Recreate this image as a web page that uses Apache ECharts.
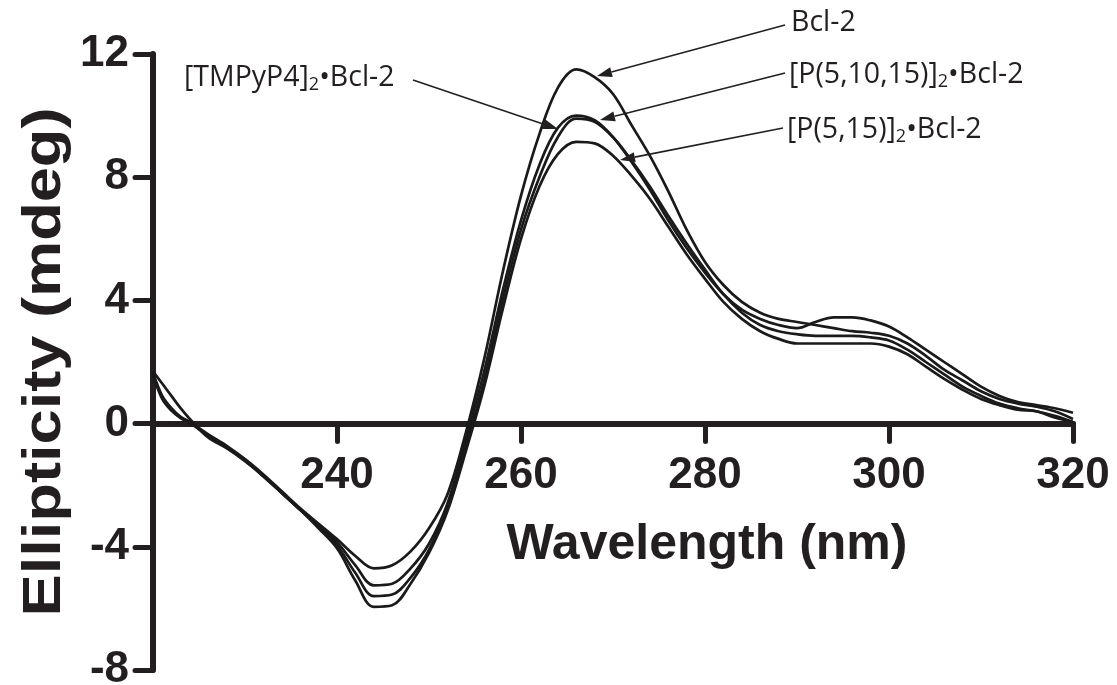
<!DOCTYPE html>
<html>
<head>
<meta charset="utf-8">
<script src="https://cdn.jsdelivr.net/npm/echarts@6/dist/echarts.min.js"></script>
<style>
html,body{margin:0;padding:0;background:#fff;}
#chart{width:1117px;height:685px;}
</style>
</head>
<body>
<div id="chart"></div>
<script>
// Wavelength (nm)
const wavelengths = [220,221,222,223,224,226,228,230,232,234,236,238,240,242,244,246,248,250,252,254,256,258,260,262,264,266,268,270,272,274,276,278,280,282,284,286,288,290,292,294,296,298,300,302,304,306,308,310,312,314,316,318,320];

// Ellipticity (mdeg)
const bcl2 = [1.6,0.85,0.45,0.2,0.05,
  -0.35,-0.72,-1.15,-1.65,-2.2,-2.75,-3.25,
  -3.75,-4.3,-4.7,-4.6,-4.15,-3.4,-2.3,-0.3,
  2.1,4.9,7.4,9.4,10.9,11.5,11.25,10.7,9.7,8.7,
  7.55,6.3,5.25,4.5,3.95,3.6,3.4,3.3,3.2,3.1,
  3.0,2.95,2.85,2.6,2.2,1.75,1.4,1.05,0.8,0.65,0.55,0.4,0.15];
const tmpyp4 = [1.65,0.9,0.5,0.22,0.05,
  -0.38,-0.75,-1.2,-1.7,-2.25,-2.8,-3.3,
  -3.85,-4.6,-5.25,-5.2,-4.7,-3.9,-2.6,-0.5,
  1.7,4.3,6.6,8.4,9.6,10.0,9.85,9.3,8.5,7.6,
  6.6,5.7,4.9,4.2,3.7,3.4,3.2,3.1,3.3,3.45,
  3.45,3.35,3.15,2.8,2.4,2.0,1.6,1.2,0.9,0.7,0.6,0.5,0.35];
const p51015 = [1.6,0.8,0.42,0.18,0.02,
  -0.4,-0.78,-1.2,-1.72,-2.25,-2.8,-3.35,
  -3.95,-4.85,-5.6,-5.55,-5.0,-4.1,-2.7,-0.7,
  1.4,4.0,6.3,8.0,9.3,9.9,9.8,9.3,8.55,7.7,
  6.75,5.85,5.0,4.2,3.6,3.2,3.0,2.9,2.85,2.85,
  2.85,2.8,2.7,2.4,2.0,1.6,1.2,0.9,0.65,0.5,0.4,0.25,0.05];
const p515 = [1.7,1.3,0.9,0.5,0.15,
  -0.45,-0.8,-1.22,-1.7,-2.25,-2.8,-3.4,
  -4.05,-5.1,-5.95,-5.9,-5.2,-4.2,-2.85,-0.9,
  1.2,3.7,6.0,7.7,8.75,9.15,9.1,8.7,8.05,7.3,
  6.4,5.5,4.7,3.95,3.4,3.0,2.75,2.6,2.6,2.6,
  2.6,2.6,2.5,2.25,1.85,1.45,1.1,0.8,0.6,0.45,0.4,0.2,0.05];

const seriesNames = ['Bcl-2','[TMPyP4]2•Bcl-2','[P(5,10,15)]2•Bcl-2','[P(5,15)]2•Bcl-2'];
const seriesValues = [bcl2, tmpyp4, p51015, p515];

const xTicks = [220,240,260,280,300,320];
const xTickLabels = ['240','260','280','300','320'];
const yTicks = [-8,-4,0,4,8,12];

const INK = '#231f20';
const AXIS_FONT = '"Liberation Sans", Arial, sans-serif';
const chart = echarts.init(document.getElementById('chart'), null, {renderer:'canvas'});

function arrow(x1,y1,x2,y2){
  const dx=x2-x1, dy=y2-y1, L=Math.hypot(dx,dy);
  const ux=dx/L, uy=dy/L, len=15, w=5;
  const bx=x2-ux*len, by=y2-uy*len;
  return [
    {type:'line', shape:{x1:x1,y1:y1,x2:bx,y2:by}, style:{stroke:INK,lineWidth:1.6}, z:10},
    {type:'polygon', shape:{points:[[x2,y2],[bx-uy*w,by+ux*w],[bx+uy*w,by-ux*w]]}, style:{fill:INK}, z:10}
  ];
}
const annFont = '28.5px "Open Sans", sans-serif';
const rich = {sub:{fontSize:18, fontFamily:'Open Sans', fill:INK, padding:[13,0,0,0]}};
function label(x,y,txt){
  return {type:'text', x:x, y:y, z:10, style:{text:txt, font:annFont, fill:INK, textAlign:'left', textVerticalAlign:'middle', rich:rich}};
}

const graphics = [].concat(
  arrow(785,25,597,76),
  arrow(785,73,600,120),
  arrow(783,128,620,160),
  arrow(413,80,558,129),
  [
    label(791,23,'Bcl-2'),
    label(789,75,'[P(5,10,15)]{sub|2}•Bcl-2'),
    label(787,130,'[P(5,15)]{sub|2}•Bcl-2'),
    label(184,78,'[TMPyP4]{sub|2}•Bcl-2'),
    {type:'text', x:707, y:545, z:10, style:{text:'Wavelength (nm)', font:'bold 50px ' + AXIS_FONT, fill:INK, textAlign:'center', textVerticalAlign:'middle'}},
    {type:'text', x:45, y:362, rotation:Math.PI/2, scaleX:1.17, z:10, style:{text:'Ellipticity (mdeg)', font:'bold 54px ' + AXIS_FONT, fill:INK, textAlign:'center', textVerticalAlign:'middle'}}
  ]
);

const lineSeries = seriesValues.map(function(vals,i){
  return {
    name:seriesNames[i], type:'line', showSymbol:false, smooth:0.35,
    lineStyle:{color:'#1a1a1a', width:2.7},
    data: wavelengths.map(function(x,j){return [x, vals[j]];}),
    z:3, silent:true
  };
});

// x tick labels, anchored at y = 0 through the axes
const tickLabelSeries = {
  type:'scatter', symbolSize:0, silent:true, z:5,
  itemStyle:{opacity:1},
  data: xTickLabels.map(function(t){return [Number(t), 0];}),
  label:{show:true, position:'bottom', distance:30, color:INK, opacity:1, fontSize:44, fontWeight:'bold', fontFamily:AXIS_FONT,
    formatter:function(p){return String(p.value[0]);}}
};

chart.setOption({
  animation:false,
  backgroundColor:'#fff',
  grid:{left:153, right:44, top:54, bottom:15, containLabel:false, outerBoundsMode:'none'},
  xAxis:{
    type:'value', min:xTicks[0], max:xTicks[xTicks.length-1], interval:20,
    axisLine:{show:true, onZero:true, lineStyle:{color:INK, width:6}},
    axisTick:{show:true, inside:false, length:18, lineStyle:{color:INK, width:5, cap:'round'}},
    axisLabel:{show:false},
    splitLine:{show:false}
  },
  yAxis:{
    type:'value', min:yTicks[0], max:yTicks[yTicks.length-1], interval:4,
    axisLine:{show:true, onZero:false, lineStyle:{color:INK, width:6}},
    axisTick:{show:true, inside:false, length:18, lineStyle:{color:INK, width:5, cap:'round'}},
    axisLabel:{margin:24, color:INK, fontSize:44, fontWeight:'bold', fontFamily:AXIS_FONT},
    splitLine:{show:false}
  },
  series: lineSeries.concat([tickLabelSeries]),
  graphic: graphics
});
</script>
</body>
</html>
